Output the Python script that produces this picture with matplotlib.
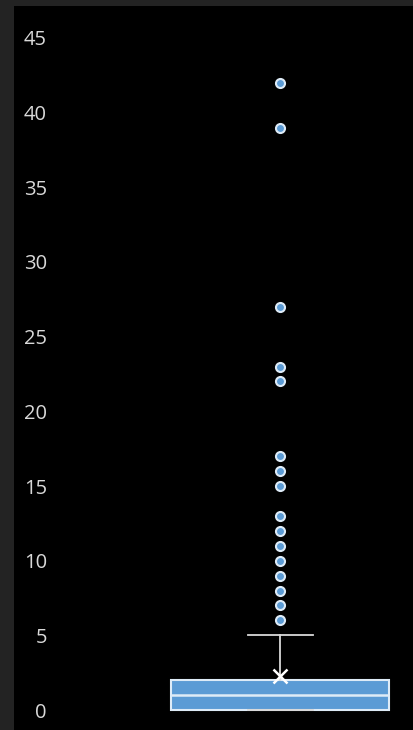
import matplotlib.pyplot as plt

# box plot summary
q1 = 0
median = 1
q3 = 2
whisker_low = 0
whisker_high = 5
mean = 2.3
outliers = [6, 7, 8, 9, 10, 11, 12, 13, 15, 16, 17, 22, 23, 27, 39, 42]
y_ticks = [0, 5, 10, 15, 20, 25, 30, 35, 40, 45]

W, H = 413, 730
fig = plt.figure(figsize=(W / 100, H / 100), dpi=100, facecolor='#232323')

# the black axes area leaves a grey strip on the left and top
ax = fig.add_axes([14 / W, 0, 1 - 14 / W, (H - 6) / H])
ax.set_facecolor('black')

stats = [{
    'med': median, 'q1': q1, 'q3': q3,
    'whislo': whisker_low, 'whishi': whisker_high,
    'mean': mean, 'fliers': outliers,
}]

blue = '#5b9bd5'
light = '#deebf7'
ax.bxp(stats, positions=[(280 - 14) / (W - 14)], widths=217 / (W - 14),
       capwidths=65 / (W - 14), patch_artist=True, showmeans=True,
       boxprops=dict(facecolor=blue, edgecolor=light, linewidth=1.5),
       medianprops=dict(color=light, linewidth=1.8),
       whiskerprops=dict(color='#d9d9d9', linewidth=1.3),
       capprops=dict(color='#d9d9d9', linewidth=1.3),
       meanprops=dict(marker='x', markeredgecolor='white', markersize=10,
                      markeredgewidth=1.8),
       flierprops=dict(marker='o', markerfacecolor=blue, markeredgecolor=light,
                       markersize=6.5, markeredgewidth=1.5))

px_per_unit = (710 - 38) / 45
ax.set_xlim(0, 1)
ax.set_ylim(-(H - 710) / px_per_unit, (710 - 6) / px_per_unit)
ax.set_yticks(y_ticks)
ax.set_yticklabels([str(t) for t in y_ticks])
ax.set_xticks([])
ax.tick_params(axis='y', length=0, pad=-33 * 0.72, labelsize=14.5,
               labelcolor='#d9d9d9')
for lbl in ax.get_yticklabels():
    lbl.set_fontfamily('Open Sans')
for s in ax.spines.values():
    s.set_visible(False)

fig.savefig('out.png', dpi=100, facecolor=fig.get_facecolor())
